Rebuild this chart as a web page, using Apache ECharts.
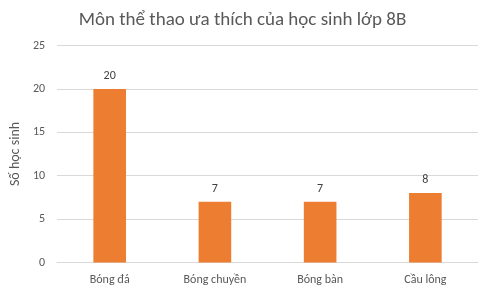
<!DOCTYPE html>
<html><head><meta charset="utf-8">
<script src="https://cdn.jsdelivr.net/npm/echarts@6/dist/echarts.min.js"></script>
<style>html,body{margin:0;padding:0;background:#fff}#c{width:485px;height:292px}</style>
</head><body><div id="c"></div>
<script>
const categories = ["Bóng đá", "Bóng chuyền", "Bóng bàn", "Cầu lông"];
const values = [20, 7, 7, 8];
const yTicks = {min: 0, max: 25, interval: 5};
const titleText = "Môn thể thao ưa thích của học sinh lớp 8B";
const yName = "Số học sinh";

const chart = echarts.init(document.getElementById('c'), null, {renderer: 'canvas'});
const font = "Calibri, Carlito, 'Open Sans', sans-serif";
chart.setOption({
  animation: false,
  title: {text: titleText, left: 'center', top: 6,
    textStyle: {fontFamily: font, fontSize: 19, fontWeight: 'normal', color: '#595959'}},
  grid: {left: 53, right: 7, top: 45.5, bottom: 29.5, containLabel: false},
  xAxis: {type: 'category', data: categories,
    axisLine: {lineStyle: {color: '#d9d9d9'}}, axisTick: {show: false},
    axisLabel: {fontFamily: font, fontSize: 12, color: '#595959', margin: 11}},
  yAxis: {type: 'value', min: yTicks.min, max: yTicks.max, interval: yTicks.interval,
    name: yName, nameLocation: 'middle', nameGap: 24,
    nameTextStyle: {fontFamily: font, fontSize: 14, color: '#595959'},
    axisLine: {show: false}, axisTick: {show: false},
    axisLabel: {fontFamily: font, fontSize: 12, color: '#595959', margin: 12},
    splitLine: {lineStyle: {color: '#d9d9d9'}}},
  series: [{type: 'bar', data: values, barWidth: '31%',
    itemStyle: {color: '#ED7D31'},
    label: {show: true, position: 'top', distance: 7, fontFamily: font, fontSize: 12, color: '#404040'}}]
});
</script></body></html>
